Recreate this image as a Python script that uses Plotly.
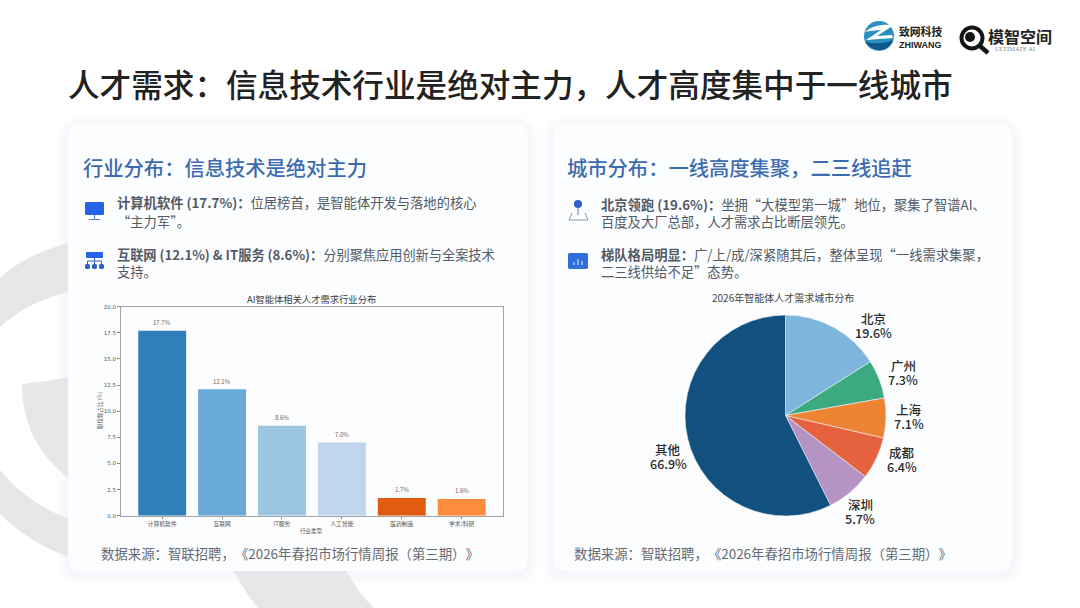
import plotly.graph_objects as go

W, H = 1080, 608
FONT = "Noto Sans CJK SC"

# bar chart data
industries = ["计算机软件", "互联网", "IT服务", "人工智能", "医药制造", "学术/科研"]
industry_share = [17.7, 12.1, 8.6, 7.0, 1.7, 1.6]
bar_colors = ["#2f7fba", "#69aad6", "#9cc6df", "#c0d6ec", "#e25a10", "#fd8d3c"]
y_ticks = [0, 2.5, 5, 7.5, 10, 12.5, 15, 17.5, 20]

# pie data: slice sizes as drawn, label values as printed
cities = ["北京", "广州", "上海", "成都", "深圳", "其他"]
city_drawn = [16.0, 6.2, 6.4, 6.8, 7.2, 57.4]
city_labels = ["19.6%", "7.3%", "7.1%", "6.4%", "5.7%", "66.9%"]
pie_colors = ["#7db6dc", "#3caa80", "#ec8434", "#e6623e", "#b594c4", "#12507f"]
city_label_pos = [(873, 325), (903, 372), (909, 416), (902, 459), (860, 511), (668, 456)]


def px(x):
    return x / W


def py(y):
    return 1 - y / H


def path(cmds):
    # cmds in pixels, top-left origin
    out = []
    for c in cmds:
        if len(c) == 1:
            out.append(c[0])
        else:
            pts = c[1:]
            out.append(c[0] + " " + " ".join(f"{px(pts[i]):.5f},{py(pts[i+1]):.5f}" for i in range(0, len(pts), 2)))
    return " ".join(out)


def round_rect(x0, y0, x1, y1, r):
    return path([
        ("M", x0 + r, y0), ("L", x1 - r, y0), ("Q", x1, y0, x1, y0 + r),
        ("L", x1, y1 - r), ("Q", x1, y1, x1 - r, y1), ("L", x0 + r, y1),
        ("Q", x0, y1, x0, y1 - r), ("L", x0, y0 + r), ("Q", x0, y0, x0 + r, y0), ("Z",),
    ])


shapes = []


def add_path(d, fill, line=None, lw=0, layer="below"):
    shapes.append(dict(type="path", path=d, xref="paper", yref="paper", fillcolor=fill,
                       line=dict(color=line or "rgba(0,0,0,0)", width=lw), layer=layer))


def add_box(x0, y0, x1, y1, r, fill, layer="above"):
    add_path(round_rect(x0, y0, x1, y1, r), fill, layer=layer)


def add_line(x0, y0, x1, y1, color, lw=1.2):
    shapes.append(dict(type="line", xref="paper", yref="paper", x0=px(x0), y0=py(y0), x1=px(x1), y1=py(y1),
                       line=dict(color=color, width=lw), layer="above"))


def add_circle(cx, cy, r, fill, line=None, lw=0):
    shapes.append(dict(type="circle", xref="paper", yref="paper", x0=px(cx - r), x1=px(cx + r),
                       y0=py(cy + r), y1=py(cy - r), fillcolor=fill,
                       line=dict(color=line or "rgba(0,0,0,0)", width=lw), layer="above"))


# grey logo watermark behind the cards
GREY = "#e6e6e8"
add_path(path([("M", 72, 242), ("C", 42, 250, 16, 262, 0, 278), ("L", 0, 327), ("C", 18, 310, 42, 298, 72, 291), ("Z",)]), GREY)
add_path(path([("M", 22, 384), ("C", 36, 382, 54, 381, 72, 376), ("L", 72, 480), ("C", 45, 462, 22, 430, 22, 384), ("Z",)]), GREY)
add_path(path([("M", 0, 470), ("C", 20, 495, 45, 510, 72, 520), ("L", 72, 558), ("C", 42, 548, 18, 532, 0, 514), ("Z",)]), GREY)
add_path(path([("M", 232, 568), ("C", 240, 583, 248, 596, 258, 608), ("L", 374, 608), ("C", 362, 596, 352, 583, 345, 568), ("Z",)]), GREY)

# cards with a soft blue shadow
for x0, x1 in [(68, 528), (553, 1012)]:
    for grow, alpha in [(12, 0.08), (8, 0.12), (4, 0.16)]:
        add_path(round_rect(x0 - grow, 124 - grow + 3, x1 + grow, 571 + grow + 3, 14 + grow), f"rgba(228,234,248,{alpha})")
    add_path(round_rect(x0, 124, x1, 571, 14), "#fcfdfe")

# icons
BLUE = "#2563eb"
add_box(85, 202, 104, 215, 1.5, BLUE)
add_line(94.5, 215, 94.5, 219, "#5b7fc4", 1)
add_line(89, 219.5, 100, 219.5, "#5b7fc4", 1)
add_box(86, 252, 103, 258, 1, BLUE)
add_line(94.5, 258, 94.5, 264, "#2f5fc0", 1)
add_line(87.5, 261, 101.5, 261, "#2f5fc0", 1)
for cx in [87.5, 94.5, 101.5]:
    add_line(cx, 261, cx, 264, "#2f5fc0", 1)
    add_box(cx - 2.5, 264, cx + 2.5, 269, 1.5, "#2f5fc0")

add_circle(578, 204, 4, "#2d62c4")
add_line(578, 208, 578, 215, "#5d7fb8", 1)
add_path(path([("M", 572, 213), ("L", 569, 220), ("L", 588, 220), ("L", 585, 213)]), "rgba(0,0,0,0)", "#8b97a8", 1, "above")
add_box(568, 253, 588, 269, 1.5, "#2f6fdc")
for bx, top in [(574, 262), (578, 259), (582, 261)]:
    add_line(bx, top, bx, 265, "#cfe0fa", 1.2)

# top right logos
add_circle(879, 36, 15, "#2b8fbf")
add_path(path([("M", 865, 42), ("C", 872, 52, 888, 54, 893, 40), ("C", 885, 44, 875, 44, 865, 42), ("Z",)]), "#12578f", layer="above")
add_path(path([("M", 865, 32), ("C", 872, 25, 885, 24, 894, 25), ("L", 877, 36), ("L", 892, 35), ("L", 893, 38), ("L", 866, 40), ("L", 881, 30), ("C", 875, 30, 870, 31, 865, 32), ("Z",)]), "#ffffff", layer="above")
add_circle(972, 38, 10.5, "#ffffff", "#151515", 4)
add_circle(970, 37, 5, "#151515")
add_line(980, 46, 988, 53, "#151515", 4.5)

annotations = []


def add_text(x, y, text, size, color="#525a66", anchor="left", weight=None, family=FONT):
    font = dict(family=family, size=size, color=color)
    if weight:
        font["weight"] = weight
    annotations.append(dict(x=px(x), y=py(y), xref="paper", yref="paper", text=text, showarrow=False,
                            xanchor=anchor, yanchor="middle", font=font, align=anchor))


add_text(66, 83, "人才需求：信息技术行业是绝对主力，人才高度集中于一线城市", 31.6, "#222222", weight=500)
add_text(81, 167, "行业分布：信息技术是绝对主力", 20.3, "#3d6bb0", weight=500)
add_text(565, 167, "城市分布：一线高度集聚，二三线追赶", 20.3, "#3d6bb0", weight=500)

add_text(115, 203, "<b>计算机软件 (17.7%)：</b>位居榜首，是智能体开发与落地的核心", 13.3)
add_text(115, 221, "“主力军”。", 13.3)
add_text(115, 254, "<b>互联网 (12.1%) &amp; IT服务 (8.6%)：</b>分别聚焦应用创新与全案技术", 13.2)
add_text(115, 271, "支持。", 13.3)
add_text(599, 204, "<b>北京领跑 (19.6%)：</b>坐拥“大模型第一城”地位，聚集了智谱AI、", 13.3)
add_text(599, 221, "百度及大厂总部，人才需求占比断层领先。", 13.3)
add_text(599, 254, "<b>梯队格局明显：</b>广/上/成/深紧随其后，整体呈现“一线需求集聚，", 13.3)
add_text(599, 271, "二三线供给不足”态势。", 13.3)

# zero width joiners stop the font squeezing neighbouring punctuation
source = "数据来源：智联招聘，\u200c《2026年春招市场行情周报（第三期）\u200c》"
add_text(99, 553, source, 13.4, "#666b73")
add_text(572, 553, source, 13.4, "#666b73")

add_text(897, 31, "致网科技", 10.8, "#222222", weight=700)
add_text(897, 45, "ZHIWANG", 9, "#222222", weight=700, family="Liberation Sans")
add_text(986, 35.5, "模智空间", 16, "#222222", weight=700)
add_text(993, 48.5, "ULTIMATE AI", 6.5, "#8a8a8a", family="Liberation Serif")

add_text(312, 299, "AI智能体相关人才需求行业分布", 9.3, "#3c3c3c", "center")
add_text(312, 530.5, "行业类型", 5.5, "#555555", "center")
add_text(783, 298, "2026年智能体人才需求城市分布", 10, "#444444", "center")

for name, val, (lx, ly) in zip(cities, city_labels, city_label_pos):
    add_text(lx, ly - 7, name, 12.5, "#2a2a2a", "center", weight=500)
    add_text(lx, ly + 7, val, 12.5, "#2a2a2a", "center", weight=500)

fig = go.Figure()
fig.add_trace(go.Bar(x=industries, y=industry_share, marker=dict(color=bar_colors, line=dict(width=0)),
                     width=0.8, showlegend=False, hoverinfo="x+y"))
fig.add_trace(go.Pie(labels=cities, values=city_drawn, sort=False, direction="clockwise", rotation=0,
                     marker=dict(colors=pie_colors, line=dict(color="#eef2f6", width=0.6)),
                     textinfo="none", showlegend=False,
                     domain=dict(x=[px(685), px(886)], y=[py(516), py(315)])))

for cat, val in zip(industries, industry_share):
    annotations.append(dict(x=cat, y=val, xref="x", yref="y", yshift=8, text=f"{val:.1f}%", showarrow=False,
                            font=dict(family=FONT, size=6, color="#666666")))

annotations.append(dict(x=px(100), y=py(410), xref="paper", yref="paper", text="职位数占比 (%)", textangle=-90,
                        xanchor="center", yanchor="middle", showarrow=False,
                        font=dict(family=FONT, size=5.5, color="#555555")))

fig.update_layout(
    width=W, height=H, margin=dict(l=0, r=0, t=0, b=0, autoexpand=False), autosize=False,
    paper_bgcolor="#ffffff", plot_bgcolor="rgba(0,0,0,0)",
    font=dict(family=FONT),
    shapes=shapes, annotations=annotations,
    bargap=0.2,
    xaxis=dict(domain=[px(120.7), px(503)], range=[-0.693, 5.69], type="category", showline=True, mirror=True,
               linecolor="#a3a3a3", linewidth=1.2, ticks="outside", ticklen=2.5, tickcolor="#888888", tickwidth=0.6,
               showgrid=False, zeroline=False, tickfont=dict(size=5.8, color="#555555", family=FONT)),
    yaxis=dict(domain=[py(515.7), py(306.7)], range=[0, 20], tickvals=y_ticks, tickformat=".1f", showline=True,
               mirror=True, linecolor="#a3a3a3", linewidth=1.2, ticks="outside", ticklen=2.5, tickcolor="#888888",
               tickwidth=0.6, showgrid=False, zeroline=False, tickfont=dict(size=5.5, color="#555555", family="DejaVu Sans")),
)

fig.write_html("out.html", config=dict(displayModeBar=False), post_script="document.body.style.margin='0';")
